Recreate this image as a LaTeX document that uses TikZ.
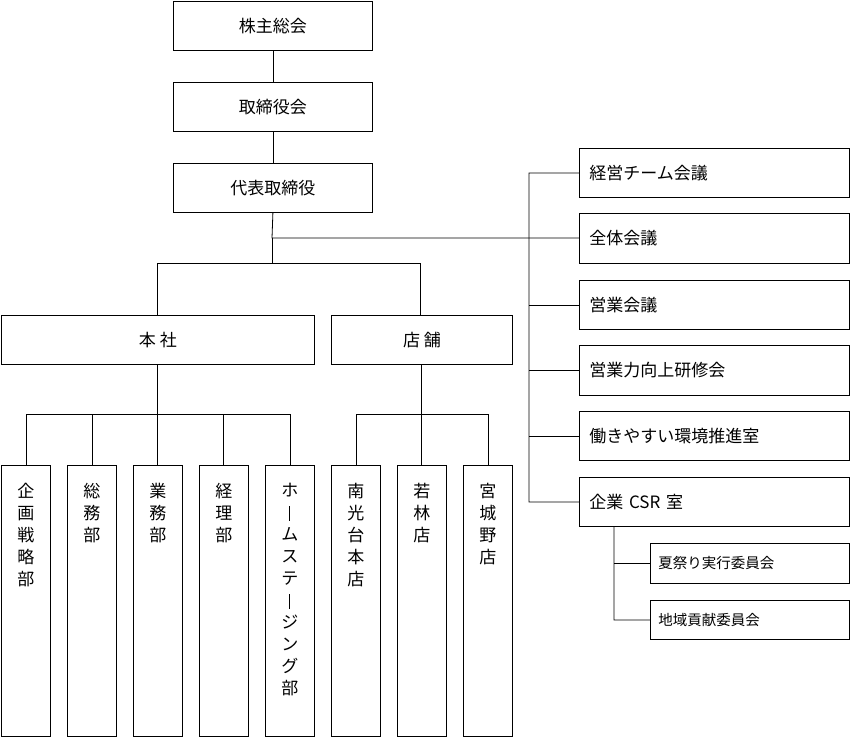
\documentclass[tikz,border=0pt]{standalone}
\usepackage{fontspec}
\setmainfont{Noto Sans CJK JP}
\begin{document}
\begin{tikzpicture}[x=1pt,y=-1pt,
  bx/.style={draw,line width=0.8pt,inner sep=0pt,font=\fontsize{17}{20}\selectfont},
  rb/.style={bx,text width=250,align=left},
  vt/.style={font=\fontsize{17}{22}\selectfont,align=center,anchor=north,inner sep=0pt},
  ln/.style={line width=0.8pt}]
\useasboundingbox (0,0) rectangle (850,736);
\def\B#1#2#3#4#5#6{\node[bx,minimum width=#4-#2,minimum height=#5-#3,anchor=north west] (#1) at (#2,#3) {#6};}
\def\R#1#2#3#4{\node[rb,minimum width=270,minimum height=#3-#2,anchor=north west] (#1) at (579,#2) {#4};}
\B{kabu}{173}{1}{372}{50}{株主総会}
\B{tori}{173}{82}{372}{131}{取締役会}
\B{dai}{173}{163}{372}{212}{代表取締役}
\B{hon}{1}{315}{314}{364}{本\ 社}
\B{ten}{331}{315}{512}{364}{店\ 舗}
\R{r1}{148}{197}{経営チーム会議}
\R{r2}{213}{263}{全体会議}
\R{r3}{280}{329}{営業会議}
\R{r4}{345}{395}{営業力向上研修会}
\R{r5}{411}{460}{働きやすい環境推進室}
\R{r6}{477}{526}{企業 CSR 室}
\node[bx,font=\fontsize{14.5}{17}\selectfont,minimum width=199,minimum height=40,anchor=north west,text width=183,align=left] (s1) at (650,543) {夏祭り実行委員会};
\node[bx,font=\fontsize{14.5}{17}\selectfont,minimum width=199,minimum height=39,anchor=north west,text width=183,align=left] (s2) at (650,600) {地域貢献委員会};
\def\V#1#2#3{\node[draw,line width=0.8pt,minimum width=49,minimum height=271,anchor=north west,inner sep=0pt] (#1) at (#2,465) {};
\node[vt] at ([yshift=-18]#1.north) {#3};}
\def\cho{\rule[-2pt]{0.9pt}{15pt}}
\V{b1}{1}{企\\画\\戦\\略\\部}
\V{b2}{67}{総\\務\\部}
\V{b3}{133}{業\\務\\部}
\V{b4}{199}{経\\理\\部}
\V{b5}{265}{ホ\\\cho\\ム\\ス\\テ\\\cho\\ジ\\ン\\グ\\部}
\V{b6}{331}{南\\光\\台\\本\\店}
\V{b7}{397}{若\\林\\店}
\V{b8}{463}{宮\\城\\野\\店}
\draw[ln] (kabu) -- (tori);
\draw[ln] (tori) -- (dai);
\draw[ln] (dai.south) -- (272,238) -- (r2.west|-0,238);
\draw[ln] (272,238) -- (272,263);
\draw[ln] (hon.north-|157,0) -- (157,263) -- (420,263) -- (ten.north-|420,0);
\draw[ln] (r1.west) -- (529,173) -- (529,502) -- (r6.west);
\foreach \r in {r3,r4,r5} \draw[ln] (529,0|-\r.west) -- (\r.west);
\draw[ln] (614,526) -- (614,620) -- (s2.west);
\draw[ln] (614,0|-s1.west) -- (s1.west);
\draw[ln] (157,364) -- (157,414);
\draw[ln] (b1.north-|26,0) -- (26,414) -- (290,414) -- (b5.north-|290,0);
\foreach \x/\b in {92/b2,157/b3,223/b4} \draw[ln] (\x,414) -- (\b.north-|\x,0);
\draw[ln] (421,364) -- (421,414);
\draw[ln] (b6.north-|356,0) -- (356,414) -- (488,414) -- (b8.north-|488,0);
\draw[ln] (421,414) -- (b7.north-|421,0);
\end{tikzpicture}
\end{document}
